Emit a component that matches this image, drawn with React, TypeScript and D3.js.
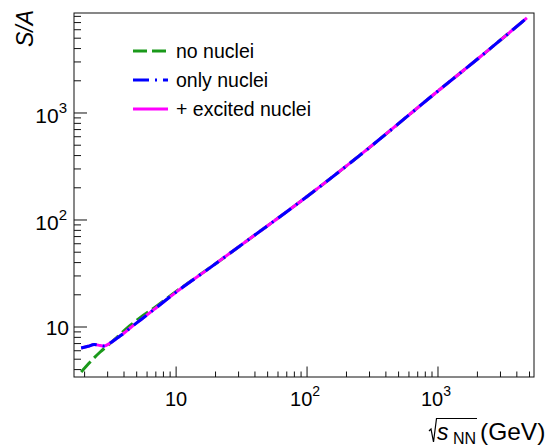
import React from "react";
import * as d3 from "d3";

// sqrt(s_NN) in GeV and S/A values
const energyNoNuclei = [1.883, 2.206, 2.63, 2.974, 3.545, 4.456, 5.404, 6.79, 10, 18.2, 36.7, 100, 254, 1000, 2092, 4775];
const saNoNuclei = [3.8, 4.71, 5.84, 6.64, 8.06, 10.33, 12.4, 15.05, 21.5, 35.9, 67.1, 165.9, 404, 1606, 3334, 7730];

const energyNuclei = [1.883, 2.129, 2.366, 2.63, 2.82, 3.135, 3.545, 4.01, 4.456, 5.404, 6.79, 10, 18.2, 36.7, 100, 254, 1000, 2092, 4775];
const saOnlyNuclei = [6.36, 6.6, 6.85, 6.72, 6.64, 7.09, 7.89, 8.79, 9.79, 11.75, 14.6, 21.2, 35.9, 67.1, 165.9, 404, 1606, 3334, 7730];
const saExcitedNuclei = [6.36, 6.6, 6.85, 6.72, 6.64, 7.09, 7.89, 8.79, 9.79, 11.75, 14.6, 21.2, 35.9, 67.1, 165.9, 404, 1606, 3334, 7730];

const seriesLabels = ["no nuclei", "only nuclei", "+ excited nuclei"];
const xMajorTicks = [10, 100, 1000];
const xTickExponents = ["", "2", "3"];
const yMajorTicks = [10, 100, 1000];
const yTickExponents = ["", "2", "3"];

const xDomain = [1.66, 5410];
const yDomain = [3.41, 8600];

const W = 547;
const H = 446;
const L = 74, R = 534, T = 13, B = 377;
const FONT = "Liberation Sans, Arial, Helvetica, sans-serif";

function minorTicks(domain: number[]) {
  const out: number[] = [];
  for (let e = -1; e < 5; e++) {
    for (let m = 1; m <= 9; m++) {
      const v = m * Math.pow(10, e);
      if (m !== 1 && v >= domain[0] && v <= domain[1]) out.push(v);
    }
  }
  return out;
}

export default function App() {
  const x = d3.scaleLog().domain(xDomain).range([L, R]);
  const y = d3.scaleLog().domain(yDomain).range([B, T]);

  const line = d3
    .line<[number, number]>()
    .x((d) => x(d[0]))
    .y((d) => y(d[1]))
    .curve(d3.curveMonotoneX);

  const green = line(energyNoNuclei.map((e, i) => [e, saNoNuclei[i]]) as [number, number][]) || "";
  const blue = line(energyNuclei.map((e, i) => [e, saOnlyNuclei[i]]) as [number, number][]) || "";
  const pink = line(energyNuclei.map((e, i) => [e, saExcitedNuclei[i]]) as [number, number][]) || "";

  const xMinor = minorTicks(xDomain);
  const yMinor = minorTicks(yDomain);

  const legend = [
    { label: seriesLabels[0], color: "#1a991a", dash: "14,5" },
    { label: seriesLabels[1], color: "#0000ff", dash: "16,6,2,6" },
    { label: seriesLabels[2], color: "#ff00ff", dash: "" },
  ];

  return (
    <svg
      width={W}
      height={H}
      style={{ position: "absolute", left: 0, top: 0, background: "#fff" }}
      fontFamily={FONT}
    >
      <defs>
        <clipPath id="frame">
          <rect x={L} y={T} width={R - L} height={B - T} />
        </clipPath>
      </defs>

      {/* frame */}
      <rect x={L} y={T} width={R - L} height={B - T} fill="none" stroke="#111" strokeWidth={1} />

      {/* y ticks */}
      {yMinor.map((v) => (
        <line key={"ym" + v} x1={L} x2={L + 7} y1={y(v)} y2={y(v)} stroke="#111" strokeWidth={1} />
      ))}
      {yMajorTicks.map((v) => (
        <line key={"yM" + v} x1={L} x2={L + 13} y1={y(v)} y2={y(v)} stroke="#111" strokeWidth={1} />
      ))}
      {yMajorTicks.map((v, i) =>
        yTickExponents[i] === "" ? (
          <text key={"yl" + v} x={L - 5} y={y(v) + 8} textAnchor="end" fontSize={21} fill="#000">
            10
          </text>
        ) : (
          <text key={"yl" + v} x={L - 7} y={y(v) + 10} textAnchor="end" fontSize={21} fill="#000">
            10
            <tspan fontSize={15} dy={-10}>{yTickExponents[i]}</tspan>
          </text>
        )
      )}

      {/* x ticks */}
      {xMinor.map((v) => (
        <line key={"xm" + v} x1={x(v)} x2={x(v)} y1={B} y2={B - 5.5} stroke="#111" strokeWidth={1} />
      ))}
      {xMajorTicks.map((v) => (
        <line key={"xM" + v} x1={x(v)} x2={x(v)} y1={B} y2={B - 10.5} stroke="#111" strokeWidth={1} />
      ))}
      {xMajorTicks.map((v, i) =>
        xTickExponents[i] === "" ? (
          <text key={"xl" + v} x={x(v)} y={406} textAnchor="middle" fontSize={20} fill="#000">
            10
          </text>
        ) : (
          <text key={"xl" + v} x={x(v) - 2} y={406} textAnchor="middle" fontSize={20} fill="#000">
            10
            <tspan fontSize={14} dy={-10}>{xTickExponents[i]}</tspan>
          </text>
        )
      )}

      {/* curves */}
      <g clipPath="url(#frame)" fill="none" strokeWidth={3}>
        <path d={green} stroke="#1a991a" strokeDasharray="14,5" />
        <path d={pink} stroke="#ff00ff" />
        <path d={blue} stroke="#0000ff" strokeDasharray="16,6,2,6" />
      </g>

      {/* legend */}
      {legend.map((l, i) => {
        const ly = 51 + i * 29;
        return (
          <g key={l.label}>
            <line
              x1={133}
              x2={168}
              y1={ly}
              y2={ly}
              stroke={l.color}
              strokeWidth={3}
              strokeDasharray={l.dash || undefined}
            />
            <text x={176} y={ly + 6.5} fontSize={19.5} fill="#000">
              {l.label}
            </text>
          </g>
        );
      })}

      {/* y title */}
      <text
        transform="translate(33,10) rotate(-90)"
        textAnchor="end"
        fontSize={23}
        fontStyle="italic"
        fill="#000"
      >
        S/A
      </text>

      {/* x title */}
      <path d="M429,431 L431,429 L433.5,442 L436.5,418.5 L477,418.5" fill="none" stroke="#000" strokeWidth={1.2} />
      <text x={437} y={439.5} fontSize={23} fontStyle="italic" fill="#000">s</text>
      <text x={476} y={444} textAnchor="end" fontSize={16} fill="#000">NN</text>
      <text x={480} y={440} fontSize={24.5} fill="#000">(GeV)</text>
    </svg>
  );
}
